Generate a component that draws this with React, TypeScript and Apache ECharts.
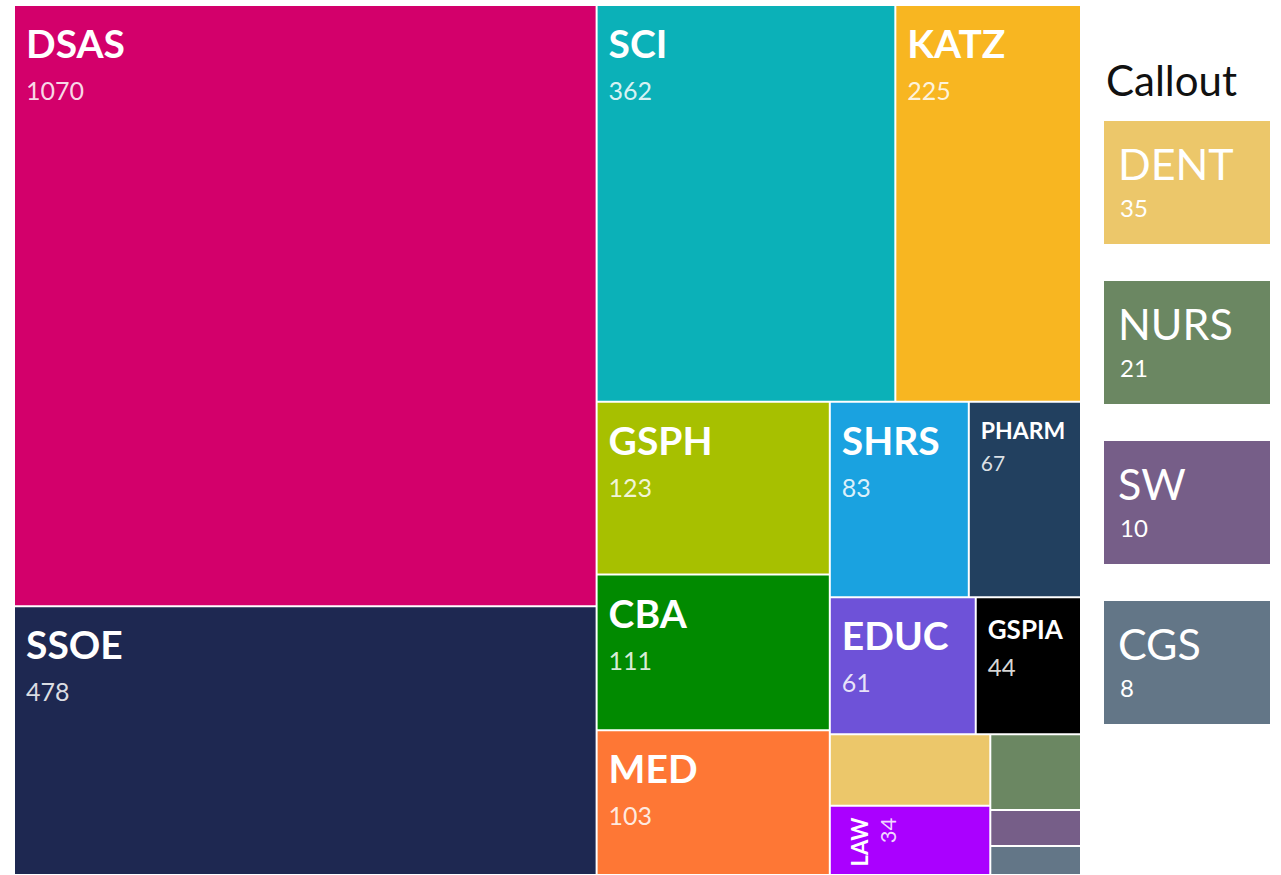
import React, { useEffect, useRef } from 'react';
import * as echarts from 'echarts';

// ---- data ----
const names = ['DSAS', 'SSOE', 'SCI', 'KATZ', 'GSPH', 'CBA', 'MED', 'SHRS', 'PHARM', 'EDUC', 'GSPIA', 'DENT', 'LAW', 'NURS', 'SW', 'CGS'];
const values = [1070, 478, 362, 225, 123, 111, 103, 83, 67, 61, 44, 35, 34, 21, 10, 8];
const colors = ['#D3006B', '#1E2851', '#0BB1B8', '#F8B621', '#A7C000', '#018A00', '#FE7735', '#1AA2E0', '#22405F', '#6E52D8', '#000000', '#ECC76A', '#AA00FF', '#6B8762', '#765E88', '#637687'];
// the small schools grouped together in the bottom-right corner
const bottomGroup = ['DENT', 'LAW', 'NURS', 'SW', 'CGS'];
// schools whose labels are shown in the side callout instead of in the cell
const calloutNames = ['DENT', 'NURS', 'SW', 'CGS'];
const calloutTitle = 'Callout';

// ---- label styling (font sizes / line heights) ----
const FONT = 'Lato, "Noto Sans", sans-serif';
const BIG = [39, 48, 25, 46];
const SMALL: Record<string, number[]> = { PHARM: [23, 29, 21, 36], GSPIA: [26, 36, 24, 38] };
const ROTATED = ['LAW'];

function rich(ns: number, nh: number, vs: number, vh: number) {
  return {
    n: { fontSize: ns, lineHeight: nh, fontWeight: 'bold', color: '#ffffff', fontFamily: FONT },
    v: { fontSize: vs, lineHeight: vh, color: 'rgba(255,255,255,0.85)', fontFamily: FONT },
  };
}
const fmt = (p: any) => `{n|${p.name}}\n{v|${p.value}}`;

function labelFor(name: string) {
  if (calloutNames.includes(name)) return { show: false };
  if (ROTATED.includes(name)) {
    return { show: true, position: [13, 6], rotate: 90, align: 'right', verticalAlign: 'top', formatter: fmt, rich: rich(22, 22, 22, 34) };
  }
  const s = SMALL[name] || BIG;
  return { show: true, position: [6, 8], align: 'left', verticalAlign: 'top', formatter: fmt, rich: rich(s[0], s[1], s[2], s[3]) };
}

const leaf = (i: number) => ({
  name: names[i],
  value: values[i],
  itemStyle: { color: colors[i] },
  label: labelFor(names[i]),
});

export default function App() {
  const ref = useRef<HTMLDivElement>(null);
  useEffect(() => {
    if (!ref.current) return;
    document.body.style.margin = '0';
    const chart = echarts.init(ref.current, null, { renderer: 'svg' });
    const idx = names.map((_, i) => i);
    const topLevel = idx.filter((i) => !bottomGroup.includes(names[i])).map(leaf);
    const groupChildren = idx.filter((i) => bottomGroup.includes(names[i])).map(leaf);
    const data = [
      ...topLevel,
      {
        name: 'small',
        children: groupChildren,
        itemStyle: { borderWidth: 0, gapWidth: 0 },
        label: { show: false },
        upperLabel: { show: false },
      },
    ];

    const graphic: any[] = [
      {
        type: 'text',
        x: 1106,
        y: 80,
        style: { text: calloutTitle, fill: '#111111', fontSize: 42, fontFamily: FONT, align: 'left', verticalAlign: 'middle' },
      },
    ];
    calloutNames.forEach((n, i) => {
      const k = names.indexOf(n);
      graphic.push({
        type: 'group',
        x: 1104,
        y: 121 + i * 160,
        children: [
          { type: 'rect', shape: { x: 0, y: 0, width: 166, height: 123 }, style: { fill: colors[k] } },
          { type: 'text', x: 14, y: 42, style: { text: n, fill: '#ffffff', fontSize: 43, fontFamily: FONT, align: 'left', verticalAlign: 'middle' } },
          { type: 'text', x: 16, y: 86, style: { text: String(values[k]), fill: '#ffffff', fontSize: 24, fontFamily: FONT, align: 'left', verticalAlign: 'middle' } },
        ],
      });
    });

    chart.setOption({
      animation: false,
      backgroundColor: '#ffffff',
      tooltip: { show: false },
      series: [
        {
          type: 'treemap',
          left: 14,
          top: 5,
          width: 1067,
          height: 870,
          roam: false,
          nodeClick: false,
          sort: false,
          breadcrumb: { show: false },
          itemStyle: { borderWidth: 1, borderColor: '#ffffff', gapWidth: 0 },
          levels: [{ itemStyle: { borderWidth: 0, gapWidth: 0 } }],
          upperLabel: { show: false },
          label: { show: true },
          data,
        },
      ],
      graphic,
    });
    return () => chart.dispose();
  }, []);
  return <div ref={ref} style={{ width: 1281, height: 875 }} />;
}
